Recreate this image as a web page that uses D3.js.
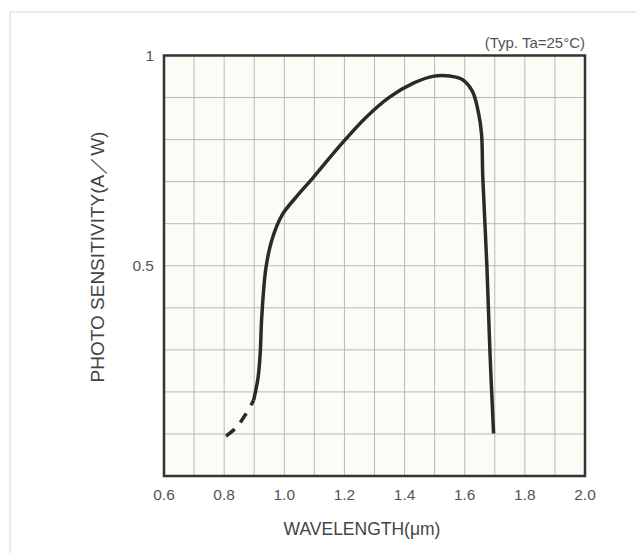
<!DOCTYPE html>
<html>
<head>
<meta charset="utf-8">
<script src="https://cdn.jsdelivr.net/npm/d3@7"></script>
<style>
  body { margin: 0; background: #fff; }
  svg { display: block; font-family: "Liberation Sans", Arial, sans-serif; }
</style>
</head>
<body>
<svg id="chart"></svg>
<script>
// wavelength (um) / sensitivity (A/W)
const dashedWave = [0.806, 0.84, 0.87, 0.898];
const dashedSens = [0.095, 0.115, 0.145, 0.180];

const solidWave = [0.898, 0.913, 0.920, 0.925, 0.939, 0.959, 0.992, 1.040, 1.094, 1.188, 1.269, 1.350, 1.431, 1.498, 1.552, 1.592, 1.626, 1.646, 1.656, 1.660, 1.674, 1.684, 1.696];
const solidSens = [0.180, 0.235, 0.293, 0.377, 0.495, 0.562, 0.620, 0.664, 0.708, 0.788, 0.851, 0.901, 0.935, 0.951, 0.951, 0.943, 0.914, 0.863, 0.813, 0.712, 0.495, 0.293, 0.101];

const xTicks = [0.6, 0.8, 1.0, 1.2, 1.4, 1.6, 1.8, 2.0];
const yTicks = [0.5, 1];
const xGrid = d3.range(0.6, 2.001, 0.1);
const yGrid = d3.range(0, 1.001, 0.1);

const width = 636, height = 553;
const svg = d3.select("#chart").attr("width", width).attr("height", height);

// faint scan frame
svg.append("path")
  .attr("d", `M10,${height} L10,12 L${width},12`)
  .attr("fill", "none").attr("stroke", "#e4e4e4").attr("stroke-width", 1.5);

const x = d3.scaleLinear().domain([0.6, 2.0]).range([164, 585]);
const y = d3.scaleLinear().domain([0, 1]).range([476, 55.5]);

// plot background
svg.append("rect")
  .attr("x", x(0.6)).attr("y", y(1))
  .attr("width", x(2.0) - x(0.6)).attr("height", y(0) - y(1))
  .attr("fill", "#fcfcf7");

// grid
svg.append("g").selectAll("line").data(xGrid).join("line")
  .attr("x1", d => x(d)).attr("x2", d => x(d))
  .attr("y1", y(0)).attr("y2", y(1))
  .attr("stroke", "#b8b8b8").attr("stroke-width", 1);
svg.append("g").selectAll("line").data(yGrid).join("line")
  .attr("y1", d => y(d)).attr("y2", d => y(d))
  .attr("x1", x(0.6)).attr("x2", x(2.0))
  .attr("stroke", "#b8b8b8").attr("stroke-width", 1);

// frame
svg.append("rect")
  .attr("x", x(0.6)).attr("y", y(1))
  .attr("width", x(2.0) - x(0.6)).attr("height", y(0) - y(1))
  .attr("fill", "none").attr("stroke", "#333").attr("stroke-width", 2.5);

// curve
const line = d3.line()
  .x(d => x(d[0])).y(d => y(d[1]))
  .curve(d3.curveCatmullRom.alpha(0.5));

svg.append("path")
  .datum(d3.zip(dashedWave, dashedSens))
  .attr("d", line)
  .attr("fill", "none").attr("stroke", "#2a2a2a").attr("stroke-width", 3.5)
  .attr("stroke-dasharray", "11,9");

svg.append("path")
  .datum(d3.zip(solidWave, solidSens))
  .attr("d", line)
  .attr("fill", "none").attr("stroke", "#2a2a2a").attr("stroke-width", 3.5)
  .attr("stroke-linejoin", "round");

// tick labels
svg.append("g").selectAll("text").data(xTicks).join("text")
  .attr("x", d => x(d)).attr("y", 500)
  .attr("text-anchor", "middle")
  .attr("font-size", 15.5).attr("fill", "#555")
  .text(d => d.toFixed(1));

svg.append("g").selectAll("text").data(yTicks).join("text")
  .attr("x", 154).attr("y", d => y(d) + 5)
  .attr("text-anchor", "end")
  .attr("font-size", 15.5).attr("fill", "#555")
  .text(d => d === 1 ? "1" : d);

// titles
svg.append("text")
  .attr("x", 362).attr("y", 535)
  .attr("text-anchor", "middle")
  .attr("font-size", 17.5).attr("fill", "#444")
  .text("WAVELENGTH(μm)");

svg.append("text")
  .attr("transform", "translate(104,257) rotate(-90)")
  .attr("text-anchor", "middle")
  .attr("font-size", 19).attr("fill", "#444")
  .text("PHOTO SENSITIVITY(A／W)");

svg.append("text")
  .attr("x", 585).attr("y", 48)
  .attr("text-anchor", "end")
  .attr("font-size", 15).attr("fill", "#555")
  .text("(Typ. Ta=25°C)");
</script>
</body>
</html>
